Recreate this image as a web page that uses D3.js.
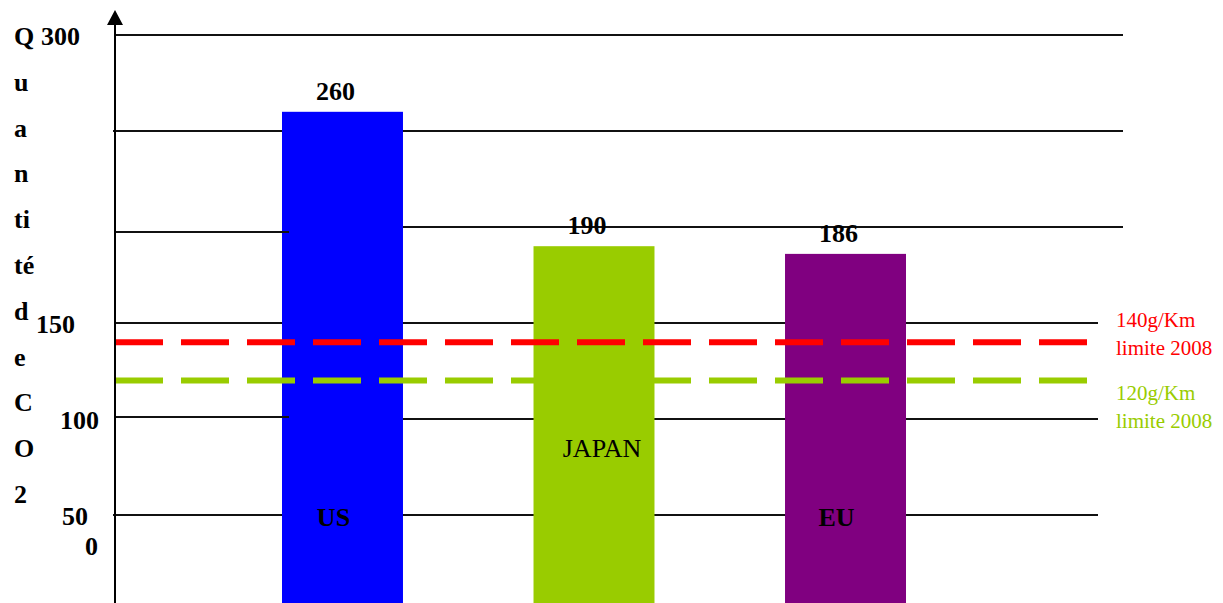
<!DOCTYPE html>
<html>
<head>
<meta charset="utf-8">
<script src="https://cdn.jsdelivr.net/npm/d3@7"></script>
<style>
  html, body { margin: 0; padding: 0; background: #fff; overflow: hidden; }
  text { font-family: "Liberation Serif", "Times New Roman", serif; }
</style>
</head>
<body>
<div id="chart"></div>
<script>
// data
const categories = ['US', 'JAPAN', 'EU'];
const values = [260, 190, 186];
const barColors = ['#0000ff', '#99cc00', '#800080'];
const gridValues = [300, 250, 200, 150, 100, 50];
const tickLabels = [300, 150, 100, 50, 0];
const titleLines = ['Q', 'u', 'a', 'n', 'ti', 'té', 'd', 'e', 'C', 'O', '2'];
const limits = [
  { value: 140, color: '#ff0000', lines: ['140g/Km', 'limite 2008'] },
  { value: 120, color: '#99cc00', lines: ['120g/Km', 'limite 2008'] }
];

const width = 1223, height = 603;
const axisX = 115;
const fs = 26;

const svg = d3.select('#chart').append('svg')
  .attr('width', width)
  .attr('height', height);

const y = d3.scaleLinear().domain([50, 300]).range([515, 35]);

const x = d3.scaleBand()
  .domain(categories)
  .range([282, 906])
  .paddingInner(0.519)
  .paddingOuter(0);

const usRight = x('US') + x.bandwidth();

// grid lines (behind the bars); 200 and 100 restart after the US bar
const gridRight = { 300: 1123, 250: 1123, 200: 1123, 150: 1098, 100: 1098, 50: 1098 };
svg.append('g').selectAll('line')
  .data(gridValues)
  .join('line')
  .attr('x1', d => (d === 200 || d === 100) ? usRight : (d === 50 || d === 250 ? axisX - 2 : axisX))
  .attr('x2', d => gridRight[d])
  .attr('y1', d => y(d))
  .attr('y2', d => y(d))
  .attr('stroke', '#111')
  .attr('stroke-width', 2);

// bars
svg.append('g').selectAll('rect')
  .data(values)
  .join('rect')
  .attr('x', (d, i) => x(categories[i]))
  .attr('width', x.bandwidth())
  .attr('y', d => y(d))
  .attr('height', d => y(0) - y(d))
  .attr('fill', (d, i) => barColors[i]);

// left pieces of 200 and 100, drawn over the US bar edge
[200, 100].forEach(v => {
  const yy = y(v) + (v === 200 ? 5 : -2);
  svg.append('line')
    .attr('x1', axisX).attr('x2', x('US') + 7)
    .attr('y1', yy).attr('y2', yy)
    .attr('stroke', '#111').attr('stroke-width', 2);
});

// dashed limit lines (on top of the bars)
svg.append('g').selectAll('line')
  .data(limits)
  .join('line')
  .attr('x1', axisX)
  .attr('x2', 1087)
  .attr('y1', d => y(d.value))
  .attr('y2', d => y(d.value))
  .attr('stroke', d => d.color)
  .attr('stroke-width', 6)
  .attr('stroke-dasharray', '48 18');

// limit legend text
const legendDy = { 140: [-15, 13], 120: [19, 47] };
limits.forEach(l => {
  l.lines.forEach((t, i) => {
    svg.append('text')
      .attr('x', 1116)
      .attr('y', y(l.value) + legendDy[l.value][i])
      .attr('fill', l.color)
      .attr('font-size', 21)
      .text(t);
  });
});

// y axis with arrow
svg.append('line')
  .attr('x1', axisX).attr('x2', axisX)
  .attr('y1', 22).attr('y2', height)
  .attr('stroke', '#000').attr('stroke-width', 2);
svg.append('path')
  .attr('d', d3.line()([[axisX - 8, 25], [axisX, 10], [axisX + 8, 25]]) + 'Z')
  .attr('fill', '#000');

// axis title, one letter group per line
svg.append('text')
  .attr('x', 14)
  .attr('y', 45)
  .attr('font-size', fs)
  .attr('font-weight', 'bold')
  .selectAll('tspan')
  .data(titleLines)
  .join('tspan')
  .attr('x', 14)
  .attr('dy', (d, i) => i === 0 ? 0 : 45.8)
  .text(d => d);

// tick labels (placed by hand in the original)
const tickX = { 300: 80, 150: 75, 100: 99, 50: 88, 0: 98 };
svg.append('g').selectAll('text')
  .data(tickLabels)
  .join('text')
  .attr('x', d => tickX[d])
  .attr('y', d => d === 0 ? y(50) + 40 : y(d) + 10)
  .attr('text-anchor', 'end')
  .attr('font-size', fs)
  .attr('font-weight', 'bold')
  .text(d => d);

// value labels
svg.append('g').selectAll('text')
  .data(values)
  .join('text')
  .attr('x', (d, i) => x(categories[i]) + x.bandwidth() / 2 - 7)
  .attr('y', d => y(d) - 12)
  .attr('text-anchor', 'middle')
  .attr('font-size', fs)
  .attr('font-weight', 'bold')
  .text(d => d);

// category labels inside the bars
svg.append('g').selectAll('text')
  .data(categories)
  .join('text')
  .attr('x', d => x(d) + x.bandwidth() / 2 + (d === 'JAPAN' ? 8 : -9))
  .attr('y', d => d === 'JAPAN' ? y(100) + 38 : y(50) + 11)
  .attr('text-anchor', 'middle')
  .attr('font-size', fs)
  .attr('font-weight', d => d === 'JAPAN' ? 'normal' : 'bold')
  .text(d => d);
</script>
</body>
</html>
